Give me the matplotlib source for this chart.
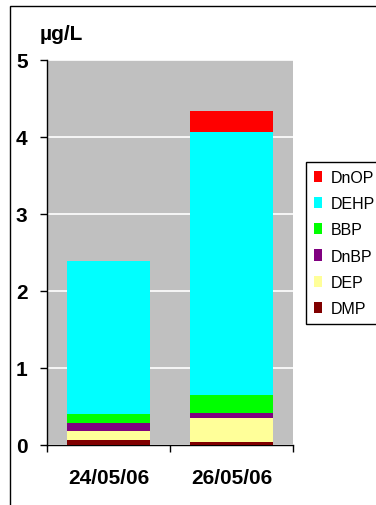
import matplotlib
matplotlib.use("Agg")
import matplotlib.pyplot as plt
from matplotlib.patches import Rectangle
import numpy as np

plt.rcParams['font.family'] = ['Liberation Sans', 'DejaVu Sans']

dates = ["24/05/06", "26/05/06"]
series = ["DMP", "DEP", "DnBP", "BBP", "DEHP", "DnOP"]
colors = ["#800000", "#FFFF99", "#800080", "#00FF00", "#00FFFF", "#FF0000"]
DMP = [0.065, 0.04]
DEP = [0.115, 0.31]
DnBP = [0.105, 0.065]
BBP = [0.115, 0.235]
DEHP = [1.99, 3.415]
DnOP = [0.0, 0.275]
values = [DMP, DEP, DnBP, BBP, DEHP, DnOP]
yticks = [0, 1, 2, 3, 4, 5]

fig = plt.figure(figsize=(3.76, 5.06), dpi=100)
fig.patches.append(Rectangle((10/376, -0.01), 1.0, (506-7)/506 + 0.01, transform=fig.transFigure,
                             fill=False, edgecolor='black', linewidth=1.0, zorder=0))
ax = fig.add_axes([47/376, 60.3/506, (293-47)/376, (446-61)/506])
ax.set_facecolor('#C0C0C0')

x = np.arange(len(dates))
bottom = np.zeros(len(dates))
handles = []
for name, col, vals in zip(series, colors, values):
    b = ax.bar(x, vals, width=0.675, bottom=bottom, color=col, label=name, zorder=3, linewidth=0)
    bottom += np.array(vals)
    handles.append(b)

ax.set_xlim(-0.5, 1.5)
ax.set_ylim(0, 5)
ax.set_yticks(yticks)
ax.set_yticklabels([str(t) for t in yticks], fontsize=15, fontweight='bold')
ax.set_xticks(x)
ax.set_xticklabels(dates, fontsize=15, fontweight='bold')
ax.tick_params(axis='x', length=0, pad=17)
ax.set_xticks([-0.5, 0.5, 1.5], minor=True)
ax.tick_params(axis='x', which='minor', length=5, direction='out', width=1)
ax.tick_params(axis='y', length=5, direction='out', width=1, pad=9)
ax.grid(axis='y', color='white', linewidth=1.2, zorder=1)
for s in ['top', 'right']:
    ax.spines[s].set_visible(False)
ax.spines['left'].set_linewidth(1.0)
ax.spines['bottom'].set_linewidth(1.0)

fig.text(40/376, 1 - 35/506, "µg/L", fontsize=15, fontweight='bold', va='center', ha='left')

leg = fig.legend(handles[::-1], series[::-1], loc='upper left',
                 bbox_to_anchor=(306/376, 1 - 163/506), fontsize=11.5,
                 frameon=True, fancybox=False, edgecolor='black', framealpha=1,
                 handlelength=0.5, handleheight=0.7, handletextpad=0.55,
                 labelspacing=0.7, borderpad=0.5, borderaxespad=0)
leg.get_frame().set_linewidth(1.0)

fig.savefig("out.png", dpi=100)
